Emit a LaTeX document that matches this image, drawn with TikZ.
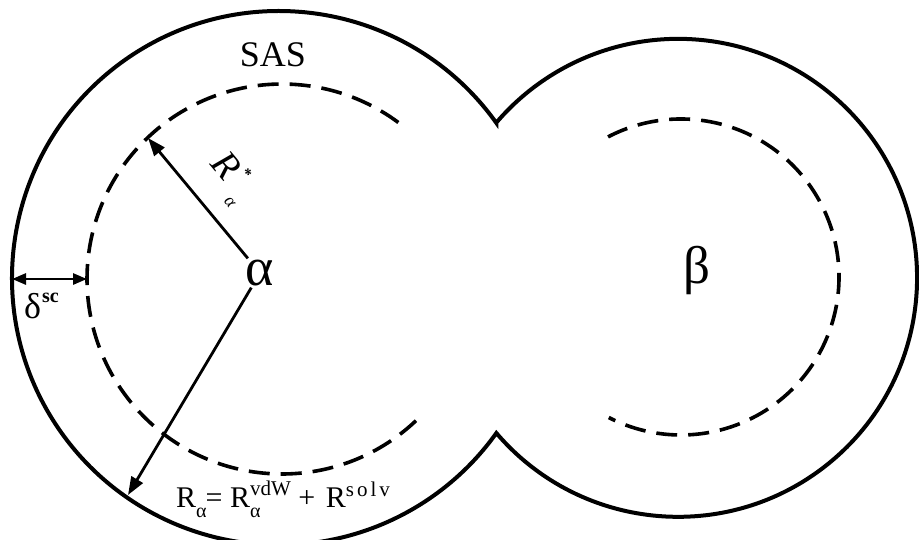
\documentclass[tikz,border=0pt]{standalone}
\usepackage{fontspec}
\setmainfont{Liberation Serif}
\usetikzlibrary{arrows.meta,calc}
\begin{document}
\begin{tikzpicture}[x=1pt,y=-1pt,
  outline/.style={line width=4pt, line join=miter, miter limit=30},
  dashedarc/.style={line width=3.6pt, dash pattern=on 21pt off 11pt},
  radarrow/.style={line width=2.8pt, -{Triangle[length=18pt,width=13pt]}},
  gaparrow/.style={line width=2.8pt, {Triangle[length=14pt,width=11pt]}-{Triangle[length=14pt,width=11pt]}},
  lbl/.style={inner sep=0pt}
]
\useasboundingbox (0,0) rectangle (919,539);
% centres
\coordinate (cA) at (279,278);
\coordinate (cB) at (678,278);
\coordinate (dA) at (282,279);
\coordinate (dB) at (681,277);
% SAS outline (two overlapping spheres)
\draw[outline] ([shift={(cA)}]324.5:267) arc[start angle=324.5, end angle=35.5, radius=267]
  arc[start angle=139.5, end angle=-139.5, radius=239] -- cycle;
% dashed inner spheres
\draw[dashedarc] ([shift={(dA)}]46.6:195) arc[start angle=46.6, end angle=309.6, radius=195];
\draw[dashedarc] ([shift={(dB)}]-117.5:158) arc[start angle=-117.5, end angle=117.2, radius=158];
% labels
\node[lbl, font=\fontsize{36}{36}\selectfont] (sas) at (273,55) {SAS};
\node[lbl, font=\fontsize{54}{54}\selectfont] (alpha) at (260,273) {α};
\node[lbl, font=\fontsize{53}{53}\selectfont] (beta) at (697,270) {β};
% radius arrows
\coordinate (tipR) at (148,138);
\coordinate (tipB) at (128,495);
\draw[radarrow, shorten <=19pt] (alpha.center) -- (tipR);
\draw[radarrow, shorten <=17pt] (alpha.center) -- (tipB);
\node[lbl, rotate=-50, anchor=base west, font=\fontsize{38}{38}\selectfont\itshape] (rstar) at (209,164)
  {R\hspace{3.5pt}\raisebox{17pt}{\fontsize{16}{16}\selectfont\bfseries *}\hspace{3pt}\raisebox{-13pt}{\fontsize{18}{18}\selectfont α}};
% delta gap arrow
\coordinate (gl) at (12,279);
\coordinate (gr) at (87,279);
\draw[gaparrow] (gl) -- (gr);
\node[lbl, anchor=base west, font=\fontsize{36}{36}\selectfont] (delta) at (24,318)
  {δ\hspace{1pt}\raisebox{0.42em}{\fontsize{20}{20}\selectfont\bfseries sc}};
% formula
\node[lbl, anchor=base west, font=\fontsize{30}{30}\selectfont] (formula) at (176,507)
  {R\raisebox{-10pt}{\fontsize{20}{20}\selectfont α}\hspace{-1pt}= R\rlap{\raisebox{-10pt}{\fontsize{20}{20}\selectfont α}}\raisebox{12pt}{\fontsize{21}{21}\selectfont vdW} + \hspace{3pt}R\raisebox{11pt}{\fontsize{21}{21}\selectfont s\kern3pt o\kern3pt l\kern3pt v}};
\end{tikzpicture}
\end{document}
